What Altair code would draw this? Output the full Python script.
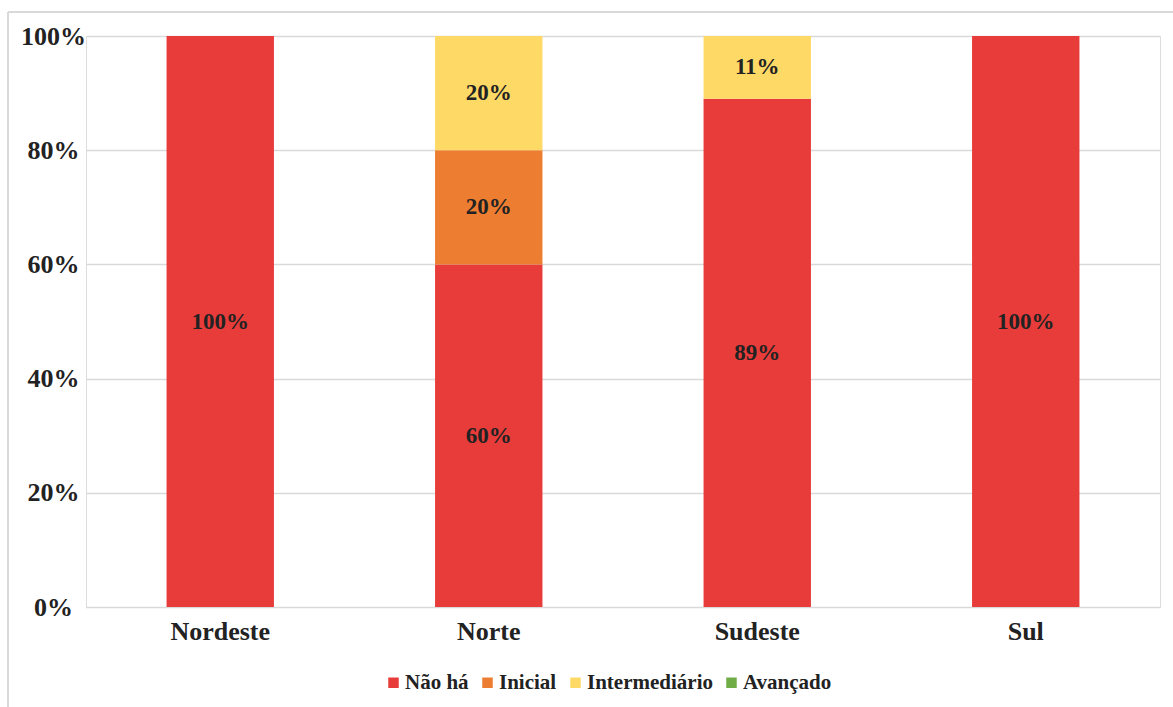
import altair as alt
import pandas as pd

regioes = ["Nordeste", "Norte", "Sudeste", "Sul"]
niveis = ["Não há", "Inicial", "Intermediário", "Avançado"]
nao_ha = [1.00, 0.60, 0.89, 1.00]
inicial = [0.00, 0.20, 0.00, 0.00]
intermediario = [0.00, 0.20, 0.11, 0.00]
avancado = [0.00, 0.00, 0.00, 0.00]
cores = ["#E83C3A", "#ED7D31", "#FFD966", "#70AD47"]

rows = []
for serie, vals in zip(niveis, [nao_ha, inicial, intermediario, avancado]):
    for r, v in zip(regioes, vals):
        rows.append({"Região": r, "Nível": serie, "Valor": v, "ordem": niveis.index(serie)})
df = pd.DataFrame(rows)

W, H = 1074, 571
FONT = "Liberation Serif"

base = alt.Chart(df)

bars = base.mark_bar().encode(
    x=alt.X("Região:N", sort=regioes, title=None,
            scale=alt.Scale(paddingInner=0.6, paddingOuter=0.3),
            axis=alt.Axis(labelAngle=0, labelFontSize=26, labelFontWeight="bold",
                          labelColor="#222222", labelFont=FONT, labelPadding=11,
                          ticks=False, domain=False, grid=False)),
    y=alt.Y("Valor:Q", stack="zero", title=None,
            scale=alt.Scale(domain=[0, 1]),
            axis=alt.Axis(format=".0%", values=[0, 0.2, 0.4, 0.6, 0.8, 1.0],
                          labelFontSize=26, labelFontWeight="bold", labelColor="#222222",
                          labelFont=FONT, labelAlign="center", labelPadding=33,
                          ticks=False, domain=False,
                          grid=True, gridColor="#D9D9D9", gridWidth=1.5)),
    color=alt.Color("Nível:N", sort=niveis,
                    scale=alt.Scale(domain=niveis, range=cores),
                    legend=alt.Legend(title=None, orient="none", direction="horizontal",
                                      legendX=297, legendY=636, columns=4,
                                      symbolType="square", symbolSize=110,
                                      symbolStrokeWidth=0, labelFont=FONT,
                                      labelFontSize=21, labelFontWeight="bold",
                                      labelColor="#222222", columnPadding=8,
                                      labelOffset=1, symbolOffset=0)),
    order=alt.Order("ordem:Q"),
)

labels = base.transform_filter("datum.Valor > 0").mark_text(
    font=FONT, fontSize=23, fontWeight="bold", color="#222222"
).encode(
    x=alt.X("Região:N", sort=regioes),
    y=alt.Y("Valor:Q", stack="zero", bandPosition=0.5),
    text=alt.Text("Valor:Q", format=".0%"),
    order=alt.Order("ordem:Q"),
)

frame_left = alt.Chart(pd.DataFrame({"a": [0]})).mark_rule(color="#D9D9D9", strokeWidth=2, clip=False).encode(
    x=alt.value(-78), y=alt.value(-24), y2=alt.value(H + 120))
frame_top = alt.Chart(pd.DataFrame({"a": [0]})).mark_rule(color="#D9D9D9", strokeWidth=2, clip=False).encode(
    x=alt.value(-78), x2=alt.value(W + 120), y=alt.value(-24))

chart = alt.layer(bars, labels, frame_left, frame_top).properties(
    width=W, height=H,
    autosize=alt.AutoSizeParams(type="none"),
    padding={"left": 86, "top": 36, "right": 13, "bottom": 100},
).configure_view(stroke=None).configure(background="white")

chart.save("out.html", embed_options={"renderer": "svg", "actions": False})
